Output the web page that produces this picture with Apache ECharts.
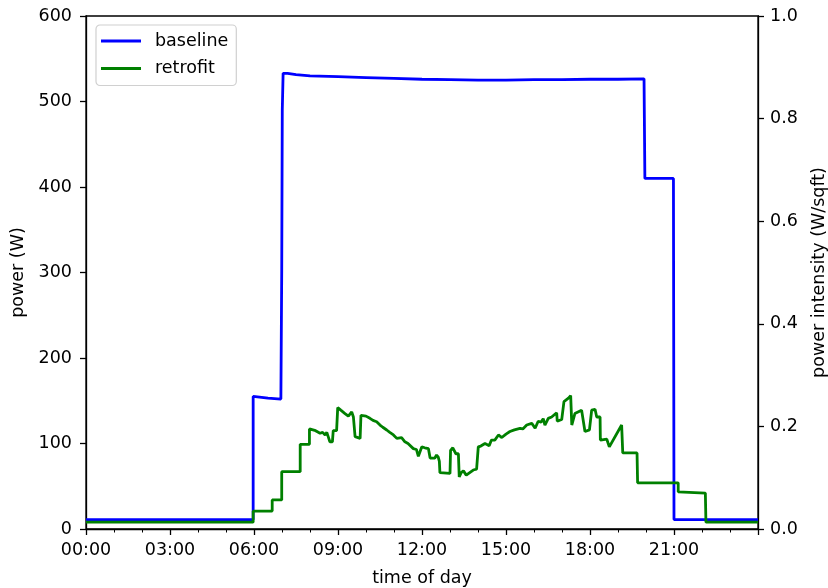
<!DOCTYPE html>
<html>
<head>
<meta charset="utf-8">
<script src="https://cdn.jsdelivr.net/npm/echarts@6/dist/echarts.min.js"></script>
<style>html,body{margin:0;padding:0;background:#fff}#c{width:828px;height:588px}</style>
</head>
<body>
<div id="c"></div>
<script>
// time of day in hours, power in W
const seriesNames = ['baseline', 'retrofit'];
const baseline = [
  [0,11],[5.97,11],[5.97,155],[6.5,153],[6.96,152],[6.99,300],[7.01,490],[7.04,533],[7.09,535],[7.2,533],
  [7.5,531.5],[8,530],[9,529],[10,528],[11,527],[12,526],[13,525.5],[14,525],[15,525],[16,525.5],
  [17,525.5],[18,526],[19,526],[19.93,526.5],[19.96,410],[20.98,410],[21.0,11],[24,11]
];
const retrofit = [
  [0,8],[5.97,8],[5.97,21],[6.65,21],[6.65,34],[6.99,34],[6.99,67],[7.65,67],[7.65,99],[7.98,99],
  [7.98,117],[8.2,115],[8.36,112],[8.45,113],[8.54,110],[8.6,113],[8.65,108],[8.71,102],[8.8,102],[8.83,115],
  [8.95,115],[8.99,142],[9.1,139],[9.25,135],[9.37,132],[9.49,137],[9.55,131],[9.61,108],[9.79,106],[9.82,133],
  [10.0,132],[10.14,129.5],[10.25,127],[10.38,125.5],[10.5,121.6],[10.6,119],[10.74,115.8],[10.85,113],[10.98,110],[11.1,106],
  [11.27,107],[11.39,102],[11.5,100],[11.57,98],[11.69,94],[11.8,93],[11.87,85],[11.93,85],[11.99,96],[12.1,95],
  [12.23,94],[12.29,83],[12.46,83],[12.52,86.5],[12.58,84],[12.62,79],[12.64,66],[13.0,65],[13.02,92],[13.1,95],
  [13.21,88],[13.3,88],[13.33,61],[13.4,66],[13.48,68],[13.58,63],[13.65,63],[13.83,69],[13.95,70],[14.01,96],
  [14.1,97],[14.25,100],[14.4,97.5],[14.48,104],[14.6,104],[14.73,110],[14.85,107],[15.0,111],[15.14,114],[15.3,116],
  [15.5,117.8],[15.6,117],[15.74,121.6],[15.92,123.6],[16.04,117.8],[16.15,126],[16.25,125],[16.33,129],[16.39,121.6],[16.51,129.4],
  [16.63,131],[16.81,136],[16.83,126],[16.99,128],[17.07,149],[17.15,151],[17.23,153],[17.31,156],[17.35,121.6],[17.46,135],
  [17.7,139],[17.76,140],[17.82,114],[17.98,116],[18.06,139],[18.18,140],[18.24,131],[18.36,131],[18.37,104],[18.6,105],
  [18.69,96],[19.13,121.6],[19.17,89],[19.68,89],[19.7,54],[21.15,54],[21.15,43.5],[22.12,42],[22.14,8],[24,8]
];
const leftTicks = {min: 0, max: 600, interval: 100};
const rightTicks = {min: 0, max: 1.0, interval: 0.2};
const xTicks = {min: 0, max: 24, interval: 3};

const F = 'DejaVu Sans';
const FS = 17.5;
const chart = echarts.init(document.getElementById('c'), null, {renderer: 'canvas'});
const pad = n => (n < 10 ? '0' : '') + n;
chart.setOption({
  animation: false,
  backgroundColor: '#fff',
  textStyle: {fontFamily: F},
  grid: {left: 86, right: 70, top: 16, bottom: 59, outerBoundsMode: 'none', containLabel: false,
    show: true, borderColor: '#000', borderWidth: 1.3, backgroundColor: 'transparent'},
  legend: {
    orient: 'vertical', left: 96, top: 25, padding: [6, 8, 7, 5],
    icon: 'rect', itemWidth: 40, itemHeight: 2.8, itemGap: 7.5,
    backgroundColor: '#fff', borderColor: '#d0d0d0', borderWidth: 1.2, borderRadius: 4,
    textStyle: {fontFamily: F, fontSize: FS, color: '#000', padding: [0, 0, 0, 9], lineHeight: 20},
    data: seriesNames
  },
  xAxis: {
    type: 'value', min: xTicks.min, max: xTicks.max, interval: xTicks.interval,
    name: 'time of day', nameLocation: 'middle', nameGap: 40,
    nameTextStyle: {fontFamily: F, fontSize: FS, color: '#000'},
    axisLine: {show: true, lineStyle: {color: '#000', width: 1.3}},
    axisTick: {show: true, inside: false, length: 6, lineStyle: {color: '#000', width: 1.3}},
    minorTick: {show: true, splitNumber: 3, length: 3.5, lineStyle: {color: '#000', width: 1}},
    splitLine: {show: false},
    axisLabel: {fontFamily: F, fontSize: FS, color: '#000', margin: 12,
      formatter: v => (v >= 24 ? '' : pad(Math.round(v)) + ':00')}
  },
  yAxis: [{
    type: 'value', min: leftTicks.min, max: leftTicks.max, interval: leftTicks.interval, position: 'left',
    name: 'power (W)', nameLocation: 'middle', nameGap: 56,
    nameTextStyle: {fontFamily: F, fontSize: FS, color: '#000'},
    axisLine: {show: true, lineStyle: {color: '#000', width: 1.3}},
    axisTick: {show: true, inside: false, length: 6, lineStyle: {color: '#000', width: 1.3}},
    splitLine: {show: false},
    axisLabel: {fontFamily: F, fontSize: FS, color: '#000', margin: 14}
  }, {
    type: 'value', min: rightTicks.min, max: rightTicks.max, interval: rightTicks.interval, position: 'right',
    name: 'power intensity (W/sqft)', nameLocation: 'middle', nameGap: 52,
    nameTextStyle: {fontFamily: F, fontSize: FS, color: '#000'},
    axisLine: {show: true, lineStyle: {color: '#000', width: 1.3}},
    axisTick: {show: true, inside: false, length: 6, lineStyle: {color: '#000', width: 1.3}},
    splitLine: {show: false},
    axisLabel: {fontFamily: F, fontSize: FS, color: '#000', margin: 12, formatter: v => v.toFixed(1)}
  }],
  series: [{
    name: seriesNames[0], type: 'line', data: baseline, symbol: 'none', showSymbol: false,
    lineStyle: {color: '#0000ff', width: 2.8}, itemStyle: {color: '#0000ff'}, z: 2
  }, {
    name: seriesNames[1], type: 'line', data: retrofit, symbol: 'none', showSymbol: false,
    lineStyle: {color: '#008000', width: 2.8}, itemStyle: {color: '#008000'}, z: 3
  }]
});
</script>
</body>
</html>
